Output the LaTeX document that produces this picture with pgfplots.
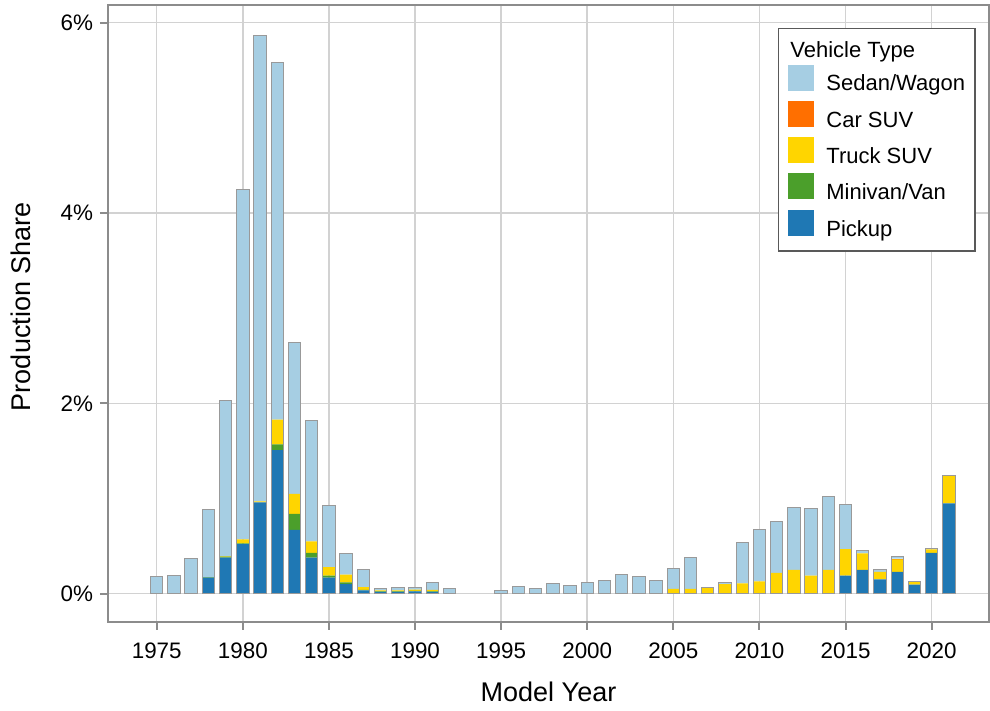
\documentclass[border=0pt]{standalone}
\usepackage{pgfplots}
\pgfplotsset{compat=1.18}
\usepackage{pgfplotstable}
\usepackage{fontspec}
\setmainfont{Liberation Sans}

\definecolor{cSedan}{HTML}{A6CEE3}
\definecolor{cCarSUV}{HTML}{FF6F00}
\definecolor{cTruckSUV}{HTML}{FFD500}
\definecolor{cMinivan}{HTML}{4B9F2B}
\definecolor{cPickup}{HTML}{1F78B4}
\definecolor{cFrame}{HTML}{8C8C8C}
\definecolor{cGrid}{HTML}{D2D2D2}

\pgfplotstableread{
year pk mv ts cs sd
1975 0 0 0 0 0.18
1976 0 0 0 0 0.19
1977 0 0 0 0 0.37
1978 0.17 0.005 0 0 0.705
1979 0.38 0.01 0.005 0 1.635
1980 0.52 0.01 0.04 0 3.68
1981 0.96 0 0.01 0 4.90
1982 1.51 0.06 0.26 0 3.75
1983 0.67 0.17 0.21 0 1.59
1984 0.38 0.05 0.12 0 1.27
1985 0.17 0.02 0.09 0 0.65
1986 0.10 0.02 0.08 0 0.22
1987 0.035 0.005 0.03 0 0.18
1988 0.02 0.005 0.01 0 0.015
1989 0.02 0.005 0.01 0 0.035
1990 0.025 0.005 0.012 0 0.028
1991 0.02 0.005 0.015 0 0.08
1992 0 0 0 0 0.06
1995 0 0 0 0 0.035
1996 0 0 0 0 0.08
1997 0 0 0 0 0.05
1998 0 0 0 0 0.105
1999 0 0 0 0 0.09
2000 0 0 0 0 0.12
2001 0 0 0 0 0.14
2002 0 0 0 0 0.20
2003 0 0 0 0 0.18
2004 0 0 0 0 0.14
2005 0 0 0.05 0 0.22
2006 0 0 0.05 0 0.33
2007 0 0 0.06 0 0.01
2008 0 0 0.10 0 0.02
2009 0 0 0.11 0 0.43
2010 0 0 0.13 0 0.55
2011 0 0 0.22 0 0.54
2012 0 0 0.25 0 0.66
2013 0 0 0.19 0 0.71
2014 0 0 0.25 0 0.77
2015 0.19 0 0.28 0 0.47
2016 0.25 0 0.175 0 0.025
2017 0.15 0 0.08 0 0.02
2018 0.23 0 0.13 0.01 0.02
2019 0.095 0 0.03 0 0.005
2020 0.43 0 0.035 0 0.005
2021 0.95 0 0.29 0 0
}\datatable

\pgfplotsset{
  common/.style={
    scale only axis,
    width=440.5pt, height=308.5pt,
    xmin=1972.17, xmax=2023.33,
    ymin=-0.297, ymax=6.186,
  },
}

\begin{document}
\begin{tikzpicture}
\begin{axis}[
  common,
  ybar stacked,
  bar width=0.72,
  axis line style={draw=cFrame, line width=1pt},
  tick style={draw=cFrame, line width=1pt},
  tick align=outside,
  tick pos=left,
  major tick length=4pt,
  grid=major,
  major grid style={draw=cGrid, line width=0.75pt},
  xtick={1975,1980,...,2020},
  ytick={0,2,4,6},
  yticklabels={0\%,2\%,4\%,6\%},
  xticklabel style={/pgf/number format/1000 sep=, yshift=-3pt},
  /pgf/number format/assume math mode=true,
  tick label style={font=\fontsize{11.2}{13}\selectfont},
  label style={font=\fontsize{13.5}{16}\selectfont},
  xlabel={Model Year},
  ylabel={Production Share},
  xlabel style={at={(axis description cs:0.5,-0.1135)}, anchor=center},
  ylabel style={at={(axis description cs:-0.0988,0.511)}, anchor=center},
  legend image code/.code={\fill[#1] (0pt,-2.6pt) rectangle (13pt,10.4pt); \path (19pt,0pt);},
  reverse legend,
  legend cell align=left,
  legend style={
    at={(rel axis cs:0.985,0.963)}, anchor=north east,
    draw=black!65, line width=0.75pt,
    font=\fontsize{11}{13}\selectfont,
    inner xsep=5pt, inner ysep=5pt,
    row sep=2.5pt,
    nodes={inner sep=0pt, text height=8pt, text depth=2.5pt},
  },
]
\addplot[fill=cPickup, draw=none] table[x=year, y=pk] {\datatable};
\addlegendentry{Pickup}
\addplot[fill=cMinivan, draw=none] table[x=year, y=mv] {\datatable};
\addlegendentry{Minivan/Van}
\addplot[fill=cTruckSUV, draw=none] table[x=year, y=ts] {\datatable};
\addlegendentry{Truck SUV}
\addplot[fill=cCarSUV, draw=none] table[x=year, y=cs] {\datatable};
\addlegendentry{Car SUV}
\addplot[fill=cSedan, draw=none] table[x=year, y=sd] {\datatable};
\addlegendentry{Sedan/Wagon}
\addlegendimage{empty legend}
\addlegendentry{\hspace*{-18pt}\raisebox{-1.5pt}{Vehicle Type}}
\end{axis}
\begin{axis}[
  common,
  hide axis,
  ybar,
  bar width=0.72,
]
\addplot[draw=black!40, fill=none, line width=0.5pt]
  table[x=year, y expr=\thisrow{pk}+\thisrow{mv}+\thisrow{ts}+\thisrow{cs}+\thisrow{sd}] {\datatable};
\end{axis}
\pgfresetboundingbox
\path[use as bounding box] (-54pt,-44.5pt) rectangle (441pt,311pt);
\end{tikzpicture}
\end{document}
